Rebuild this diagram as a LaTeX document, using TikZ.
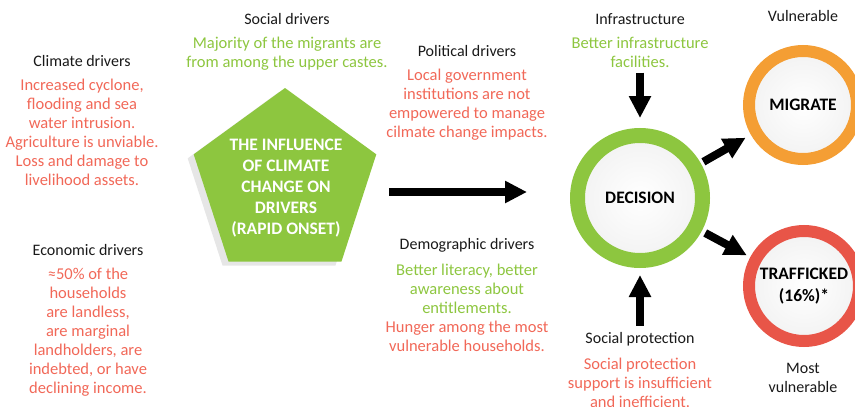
\documentclass[tikz,border=0pt]{standalone}
\usepackage{fontspec}
\setmainfont{Carlito}
\usepackage{tikz}
\usetikzlibrary{shapes,arrows.meta,positioning,shadows}
\definecolor{dgreen}{RGB}{141, 198, 63}
\definecolor{txtred}{RGB}{241, 104, 88}
\definecolor{ringorange}{RGB}{244, 158, 52}
\definecolor{ringred}{RGB}{232, 85, 72}
\definecolor{darktext}{RGB}{25, 25, 25}
\tikzstyle{head} = [font=\fontsize{16}{19}\selectfont, text=darktext, align=center, inner sep=0pt]
\tikzstyle{bad} = [font=\fontsize{16.5}{19}\selectfont, text=txtred, align=center, inner sep=0pt]
\tikzstyle{good} = [font=\fontsize{16.5}{19}\selectfont, text=dgreen, align=center, inner sep=0pt]
\tikzstyle{ring} = [circle, line width=12pt, inner color=white, outer color=gray!10, text=black, font=\bfseries\fontsize{17.5}{22}\selectfont, align=center, drop shadow={shadow xshift=-4pt, shadow yshift=-4pt, opacity=0.2}]
\tikzstyle{fatarrow} = [draw, line width=8pt, -{Triangle[length=22pt, width=21pt]}]

\begin{document}
\begin{tikzpicture}[x=1pt, y=-1pt]
\useasboundingbox (0,0) rectangle (855,407);

% driver texts =============================
\node[head] (climate) at (82,61) {Climate drivers};
\node[bad, below=12pt of climate] (climate-txt) {Increased cyclone,\\flooding and sea\\water intrusion.\\Agriculture is unviable.\\Loss and damage to\\livelihood assets.};

\node[head] (economic) at (88,250) {Economic drivers};
\node[bad, below=12pt of economic] (economic-txt) {≈50\% of the\\households\\are landless,\\are marginal\\landholders, are\\indebted, or have\\declining income.};

\node[head] (social) at (287,19) {Social drivers};
\node[good, below=12pt of social] (social-txt) {Majority of the migrants are\\from among the upper castes.};

\node[head] (political) at (467,51) {Political drivers};
\node[bad, below=12pt of political] (political-txt) {Local government\\institutions are not\\empowered to manage\\cilmate change impacts.};

\node[head] (demographic) at (467,245) {Demographic drivers};
\node[good, below=12pt of demographic] (demographic-txt) {Better literacy, better\\awareness about\\entitlements.\\\color{txtred}Hunger among the most\\\color{txtred}vulnerable households.};

% centre pentagon =============================
\node[regular polygon, regular polygon sides=5, minimum size=192pt, inner sep=0pt, fill=dgreen, drop shadow={shadow xshift=-6pt, shadow yshift=-4pt, opacity=0.2}] (pent) at (285,184) {};
\node[font=\bfseries\fontsize{17.5}{21}\selectfont, text=white, align=center] (pent-txt) at (286,188) {THE INFLUENCE\\OF CLIMATE\\CHANGE ON\\DRIVERS\\(RAPID ONSET)};

% decision side =============================
\node[ring, draw=dgreen, line width=15pt, minimum size=125pt] (decision) at (640,198) {DECISION};
\node[ring, draw=ringorange, minimum size=108pt] (migrate) at (803,105) {MIGRATE};
\node[ring, draw=ringred, minimum size=110pt] (trafficked) at (804,286) {TRAFFICKED\\(16\%)*};

\node[head] (infra) at (640,19) {Infrastructure};
\node[good, below=12pt of infra] (infra-txt) {Better infrastructure\\facilities.};

\node[head] (protect) at (640,339) {Social protection};
\node[bad, below=12pt of protect] (protect-txt) {Social protection\\support is insufficient\\and inefficient.};

\node[head] (vuln) at (803,16) {Vulnerable};
\node[head] (mostvuln) at (803,378) {Most\\vulnerable};

% arrows
\coordinate (main-start) at (389,192);
\coordinate (main-end) at (527,192);
\path[fatarrow] (main-start) -- (main-end);
\path[fatarrow, shorten <=5pt, shorten >=10pt] (infra-txt.south) -- (decision.north);
\path[fatarrow, shorten <=6pt, shorten >=7pt] (protect.north) -- (decision.south);
\path[fatarrow, shorten <=3pt, shorten >=6pt] (decision) -- (migrate);
\path[fatarrow, shorten <=4pt, shorten >=4pt] (decision) -- (trafficked);

\end{tikzpicture}
\end{document}
